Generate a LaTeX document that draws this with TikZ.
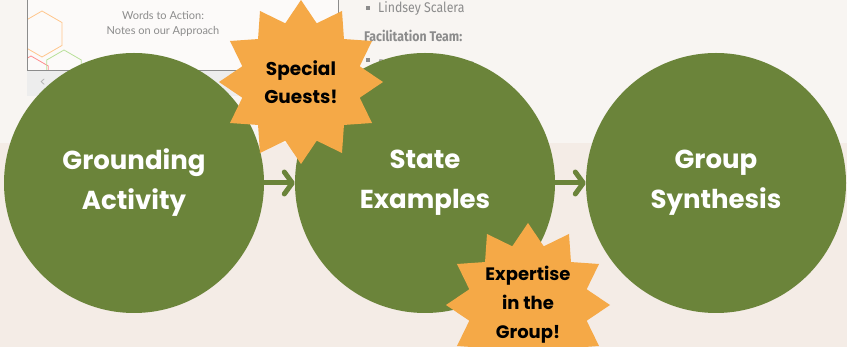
\documentclass[tikz,border=0pt]{standalone}
\usepackage{fontspec}
\setmainfont{Poppins}
\newfontfamily\slidefont[FakeStretch=0.88]{Fira Sans}
\newfontfamily\notefont{Lato}
\usetikzlibrary{shapes.geometric,arrows.meta,positioning}
\definecolor{leaf}{HTML}{6B843A}
\definecolor{sun}{HTML}{F5A947}
\definecolor{paper}{HTML}{F4ECE6}
\definecolor{slidebg}{HTML}{F8F5F2}
\definecolor{slidegray}{HTML}{8C8C8C}

\begin{document}
\begin{tikzpicture}[x=1pt,y=-1pt]
  \tikzset{
    node distance=291pt,
    bubble/.style={circle,fill=leaf,inner sep=0pt,minimum size=260pt,text=white,align=center,
      font=\bfseries\fontsize{26}{40}\selectfont},
    burst/.style={star,star points=12,star point ratio=1.35,fill=sun,inner sep=0pt,minimum size=164pt},
    burstlabel/.style={align=center,inner sep=0pt},
    flow/.style={draw=leaf,line width=5pt,line cap=round,-{Straight Barb[length=8pt,width=22pt,round]}},
    hexa/.style={regular polygon,regular polygon sides=6,shape border rotate=30,inner sep=0pt,line width=0.8pt}
  }
  \useasboundingbox (0,0) rectangle (847,347);
  \clip (0,0) rectangle (847,347);

  % background and slide screenshot
  \fill[paper] (0,0) rectangle (847,347);
  \fill[slidebg] (0,0) rectangle (847,143);
  \fill[black!7] (27,71) rectangle (338,96);
  \fill[white!55!slidebg] (27,0) rectangle (338,71);
  \begin{scope}
    \clip (27,0) rectangle (338,71);
    \node[hexa,draw=orange!45,minimum size=46pt] (hex1) at (42,34) {};
    \node[hexa,draw=red!45,minimum size=40pt] (hex2) at (31,76) {};
    \node[hexa,draw=green!40!olive!40,minimum size=40pt] (hex3) at (64,70) {};
  \end{scope}
  \draw[black!45,line width=1pt] (27,0) -- (27,71) -- (338,71) -- (338,0);
  \node[text=black!30,font=\fontsize{12}{12}\selectfont] (prev) at (43,83) {<};
  \node[text=slidegray,align=center,font=\notefont\fontsize{11}{14.5}\selectfont] (title) at (163,24)
    {Words to Action:\\Notes on our Approach};

  \fill[slidegray] (365.5,6) rectangle (369.5,10);
  \node[anchor=base west,inner sep=0pt,text=slidegray,font=\slidefont\fontsize{14}{14}\selectfont] (name) at (378,13) {Lindsey Scalera};
  \node[anchor=base west,inner sep=0pt,text=slidegray,font=\slidefont\bfseries\fontsize{14}{14}\selectfont] (team) at (364,42) {Facilitation Team:};
  \fill[slidegray] (365.5,58) rectangle (369.5,62);
  \node[anchor=base west,inner sep=0pt,text=slidegray,font=\slidefont\fontsize{14}{14}\selectfont] (memb) at (378,70) {D};
  \node[anchor=base west,inner sep=0pt,text=slidegray,font=\slidefont\fontsize{14}{14}\selectfont] (memc) at (462,70) {es};

  % the three steps
  \node[bubble] (ground) at (134,183) {Grounding\\Activity};
  \node[bubble,right of=ground] (state) {State\\Examples};
  \node[bubble,right of=state] (synth) {Group\\Synthesis};

  \draw[flow] (ground) -- (state);
  \draw[flow] (state) -- (synth);

  % call-outs
  \node[burst] (guests) at (301,82) {};
  \node[burstlabel,font=\bfseries\fontsize{18.5}{28}\selectfont] (guestsl) at (guests) {Special\\Guests!};
  \node[burst] (expert) at (528,305) {};
  \node[burstlabel,font=\bfseries\fontsize{18}{29}\selectfont] (expertl) at (528,305) {Expertise\\in the\\Group!};
\end{tikzpicture}
\end{document}
